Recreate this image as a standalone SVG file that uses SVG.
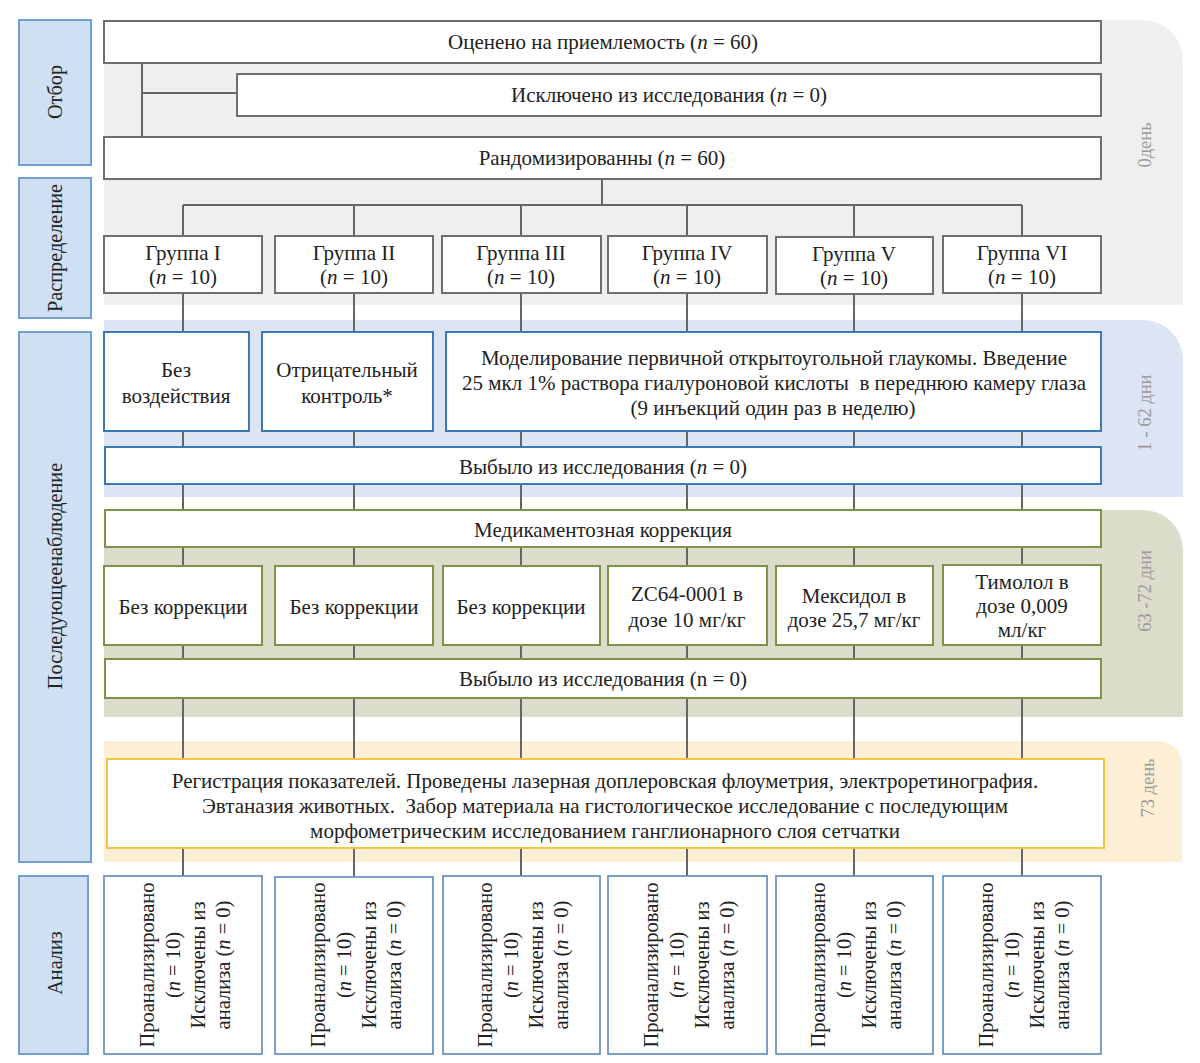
<svg xmlns="http://www.w3.org/2000/svg" width="1200" height="1063" viewBox="0 0 1200 1063">
<style>
text{font-family:"Liberation Serif",Tinos,"Times New Roman","DejaVu Serif",serif;font-size:21px;fill:#222;text-anchor:middle;dominant-baseline:central}
.i{font-style:italic}
.side{font-size:18.5px;fill:#9a9a9a}
.lt{font-size:20.3px}
.at{font-size:20.5px}
.lab{fill:#cfe0f3;stroke:#6f9fd4;stroke-width:2}
.g{fill:#fff;stroke:#6e6e6e;stroke-width:2}
.b{fill:#fff;stroke:#3c78b4;stroke-width:2}
.o{fill:#fff;stroke:#7b9347;stroke-width:2}
.y{fill:#fff;stroke:#f0c541;stroke-width:2}
.a{fill:#fff;stroke:#5a86c0;stroke-width:1.6}
.c{fill:none;stroke:#666;stroke-width:2}
</style>
<rect width="1200" height="1063" fill="#fff"/>
<g id="bands">
<path d="M104 20 H1143 A40 40 0 0 1 1183 60 V305 H104 Z" fill="#efefef"/>
<path d="M104 320 H1143 A40 40 0 0 1 1183 360 V497 H104 Z" fill="#dde4f3"/>
<path d="M104 510 H1143 A40 40 0 0 1 1183 550 V717 H104 Z" fill="#dcdccb"/>
<path d="M104 741 H1158 A24 24 0 0 1 1182 765 V862 H104 Z" fill="#fdefd6"/>
<text class="side" transform="translate(1145,145) rotate(-90)">0день</text>
<text class="side" transform="translate(1145,413) rotate(-90)">1 - 62 дни</text>
<text class="side" transform="translate(1145,591) rotate(-90)">63 -72 дни</text>
<text class="side" transform="translate(1148,788) rotate(-90)">73 день</text>
</g>
<g id="stage-labels">
<g id="lab-otbor"><rect class="lab" x="19" y="20" width="72" height="145"/><text class="lt" transform="translate(55,92) rotate(-90)">Отбор</text></g>
<g id="lab-rasp"><rect class="lab" x="19" y="178" width="72" height="140"/><text class="lt" transform="translate(55,248) rotate(-90)">Распределение</text></g>
<g id="lab-posl"><rect class="lab" x="19" y="332" width="72" height="530"/><text class="lt" transform="translate(55,576) rotate(-90)">Последующеенаблюдение</text></g>
<g id="lab-anal"><rect class="lab" x="19" y="876" width="69" height="178"/><text class="lt" transform="translate(55,963) rotate(-90)">Анализ</text></g>
</g>
<g id="connectors">
<path class="c" d="M142 63 V137 M142 93 H237"/>
<path class="c" d="M602 179 V205 M183 205 H1022 M183 205 V236 M354 205 V236 M521 205 V236 M687 205 V236 M854 205 V236 M1022 205 V236"/>
<path class="c" d="M183 293 V876 M354 293 V876 M521 293 V876 M687 293 V876 M854 293 V876 M1022 293 V876"/>
</g>
<g id="n-assessed"><rect class="g" x="104" y="21" width="997" height="42"/><text x="603" y="42">Оценено на приемлемость (<tspan class="i">n</tspan> = 60)</text></g>
<g id="n-excluded"><rect class="g" x="237" y="74" width="864" height="42"/><text x="669" y="95">Исключено из исследования (<tspan class="i">n</tspan> = 0)</text></g>
<g id="n-random"><rect class="g" x="104" y="137" width="997" height="42"/><text x="602" y="158">Рандомизированны (<tspan class="i">n</tspan> = 60)</text></g>
<g id="grp1"><rect class="g" x="104" y="236" width="158" height="57"/><text x="183" y="253">Группа I</text><text x="183" y="277">(<tspan class="i">n</tspan> = 10)</text></g>
<g id="grp2"><rect class="g" x="275" y="236" width="158" height="57"/><text x="354" y="253">Группа II</text><text x="354" y="277">(<tspan class="i">n</tspan> = 10)</text></g>
<g id="grp3"><rect class="g" x="442" y="236" width="159" height="57"/><text x="521" y="253">Группа III</text><text x="521" y="277">(<tspan class="i">n</tspan> = 10)</text></g>
<g id="grp4"><rect class="g" x="608" y="236" width="159" height="57"/><text x="687" y="253">Группа IV</text><text x="687" y="277">(<tspan class="i">n</tspan> = 10)</text></g>
<g id="grp5"><rect class="g" x="776" y="237" width="157" height="57"/><text x="854" y="254">Группа V</text><text x="854" y="278">(<tspan class="i">n</tspan> = 10)</text></g>
<g id="grp6"><rect class="g" x="943" y="236" width="158" height="57"/><text x="1022" y="253">Группа VI</text><text x="1022" y="277">(<tspan class="i">n</tspan> = 10)</text></g>
<g id="b-none"><rect class="b" x="104" y="332" width="145" height="99"/><text x="176" y="370">Без</text><text x="176" y="396">воздействия</text></g>
<g id="b-neg"><rect class="b" x="262" y="332" width="171" height="99"/><text x="347" y="370">Отрицательный</text><text x="347" y="396">контроль*</text></g>
<g id="b-model"><rect class="b" x="446" y="332" width="655" height="99"/><text x="774" y="358">Моделирование первичной открытоугольной глаукомы. Введение</text><text x="774" y="383" xml:space="preserve">25 мкл 1% раствора гиалуроновой кислоты  в переднюю камеру глаза</text><text x="773" y="408">(9 инъекций один раз в неделю)</text></g>
<g id="b-drop"><rect class="b" x="105" y="447" width="996" height="37"/><text x="603" y="467">Выбыло из исследования (<tspan class="i">n</tspan> = 0)</text></g>
<g id="o-med"><rect class="o" x="105" y="510" width="996" height="37"/><text x="603" y="530">Медикаментозная коррекция</text></g>
<g id="o1"><rect class="o" x="104" y="566" width="158" height="79"/><text x="183" y="607">Без коррекции</text></g>
<g id="o2"><rect class="o" x="275" y="566" width="158" height="79"/><text x="354" y="607">Без коррекции</text></g>
<g id="o3"><rect class="o" x="443" y="566" width="157" height="79"/><text x="521" y="607">Без коррекции</text></g>
<g id="o4"><rect class="o" x="608" y="566" width="159" height="79"/><text x="687" y="594">ZC64-0001 в</text><text x="687" y="620">дозе 10 мг/кг</text></g>
<g id="o5"><rect class="o" x="776" y="566" width="157" height="79"/><text x="854" y="596">Мексидол в</text><text x="854" y="620">дозе 25,7 мг/кг</text></g>
<g id="o6"><rect class="o" x="943" y="565" width="158" height="80"/><text x="1022" y="582">Тимолол в</text><text x="1022" y="606">дозе 0,009</text><text x="1022" y="630">мл/кг</text></g>
<g id="o-drop"><rect class="o" x="105" y="659" width="996" height="39"/><text x="603" y="679">Выбыло из исследования (n = 0)</text></g>
<g id="y-reg"><rect class="y" x="107" y="759" width="997" height="89"/><text x="605" y="781">Регистрация показателей. Проведены лазерная доплеровская флоуметрия, электроретинография.</text><text x="605" y="806" xml:space="preserve">Эвтаназия животных.  Забор материала на гистологическое исследование с последующим</text><text x="605" y="831">морфометрическим исследованием ганглионарного слоя сетчатки</text></g>
<defs>
<g id="atext" class="at">
<text class="at" y="-37">Проанализировано</text>
<text class="at" y="-11">(<tspan class="i">n</tspan> = 10)</text>
<text class="at" y="14">Исключены из</text>
<text class="at" y="39">анализа (<tspan class="i">n</tspan> = 0)</text>
</g>
</defs>
<g id="a1"><rect class="a" x="104" y="876" width="158" height="178"/><use href="#atext" transform="translate(184,965) rotate(-90)"/></g>
<g id="a2"><rect class="a" x="275" y="877" width="158" height="177"/><use href="#atext" transform="translate(355,965) rotate(-90)"/></g>
<g id="a3"><rect class="a" x="443" y="876" width="157" height="178"/><use href="#atext" transform="translate(522,965) rotate(-90)"/></g>
<g id="a4"><rect class="a" x="608" y="876" width="159" height="178"/><use href="#atext" transform="translate(688,965) rotate(-90)"/></g>
<g id="a5"><rect class="a" x="776" y="876" width="157" height="178"/><use href="#atext" transform="translate(855,965) rotate(-90)"/></g>
<g id="a6"><rect class="a" x="943" y="876" width="158" height="178"/><use href="#atext" transform="translate(1023,965) rotate(-90)"/></g>
</svg>
